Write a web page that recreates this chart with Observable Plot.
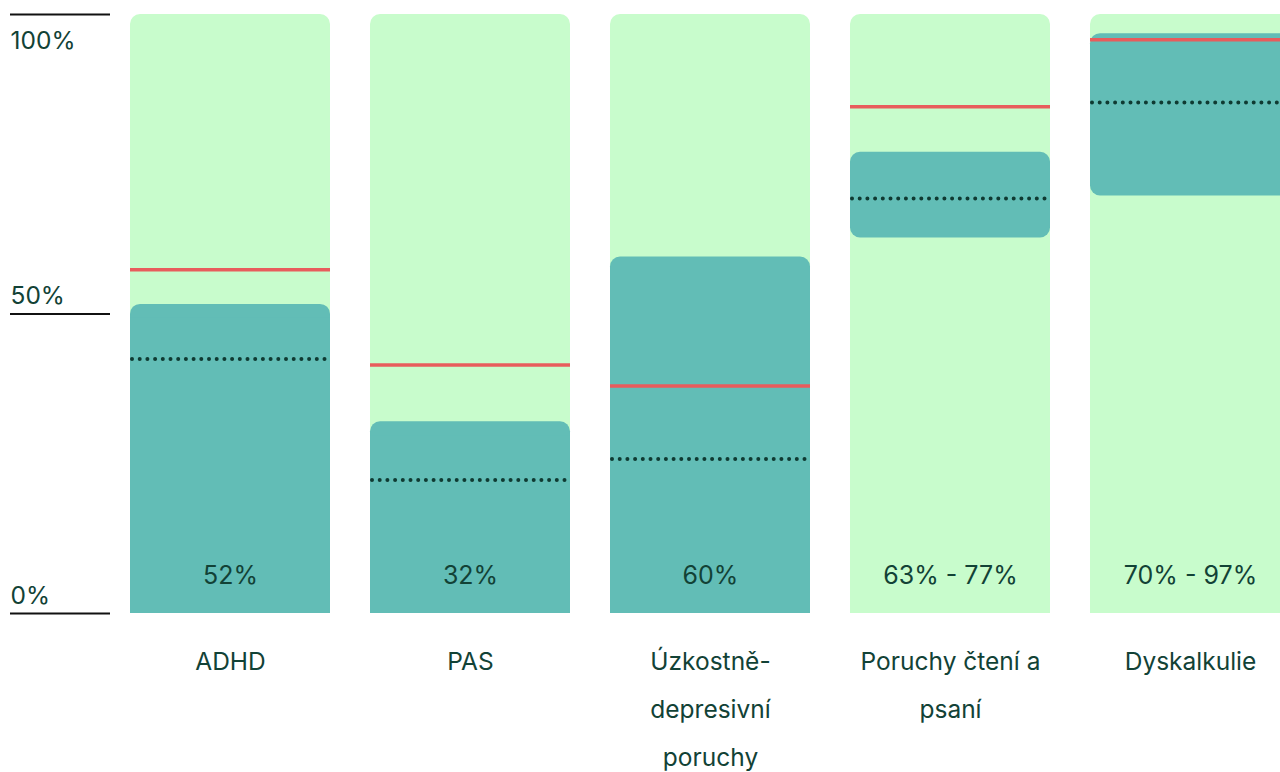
<!DOCTYPE html>
<html>
<head>
<meta charset="utf-8">
<script src="https://cdn.jsdelivr.net/npm/d3@7"></script>
<script src="https://cdn.jsdelivr.net/npm/@observablehq/plot@0.6"></script>
<style>
  html, body { margin: 0; padding: 0; background: #fff; }
  #chart { width: 1280px; height: 772px; overflow: hidden; }
</style>
</head>
<body>
<div id="chart"></div>
<script>
const categories = ["ADHD", "PAS", "Úzkostně-depresivní poruchy", "Poruchy čtení a psaní", "Dyskalkulie"];
const categoryLabels = ["ADHD", "PAS", "Úzkostně-\ndepresivní\nporuchy", "Poruchy čtení a\npsaní", "Dyskalkulie"];
const rangeLow = [0, 0, 0, 62.7, 69.7];
const rangeHigh = [51.6, 32, 59.5, 77, 96.8];
const dottedValues = [42.5, 22.3, 25.8, 69.3, 85.3];
const redValues = [57.4, 41.5, 38.0, 84.6, 95.8];
const valueLabels = ["52%", "32%", "60%", "63% - 77%", "70% - 97%"];
const yTicks = [0, 50, 100];
const yTickLabels = ["0%", "50%", "100%"];

const rows = categories.map((c, i) => ({
  cat: c, label: categoryLabels[i], lo: rangeLow[i], hi: rangeHigh[i],
  dot: dottedValues[i], red: redValues[i], text: valueLabels[i]
}));

const textColor = "#124236";
const font = "Inter, 'Noto Sans', sans-serif";

const chart = Plot.plot({
  width: 1280,
  height: 772,
  marginTop: 14,
  marginBottom: 159,
  marginLeft: 110,
  marginRight: 0,
  style: { fontFamily: font, color: textColor, background: "transparent" },
  x: { domain: categories, range: [110, 1310], paddingInner: 1/6, paddingOuter: 1/12, axis: null },
  y: { domain: [0, 100], axis: null },
  marks: [
    // background full bars
    Plot.barY(rows, { x: "cat", y1: 0, y2: 100, fill: "#c8fccc", rx: 10 }),
    Plot.barY(rows, { x: "cat", y1: 0, y2: 100, fill: "#c8fccc", insetTop: 20 }),
    // teal range bars
    Plot.barY(rows, { x: "cat", y1: "lo", y2: "hi", fill: "#62bdb6", rx: 10 }),
    Plot.barY(rows.filter(d => d.lo === 0), { x: "cat", y1: "lo", y2: "hi", fill: "#62bdb6", insetTop: 14 }),
    // red line
    Plot.tickY(rows, { x: "cat", y: "red", stroke: "#e85c5c", strokeWidth: 3.5 }),
    // dotted line
    Plot.tickY(rows, { x: "cat", y: "dot", insetLeft: 2, stroke: "#0f3a32", strokeWidth: 4, strokeDasharray: "0 7.7", strokeLinecap: "round" }),
    // value labels
    Plot.text(rows, { x: "cat", text: "text", frameAnchor: "bottom", lineAnchor: "bottom", dy: -30, fontSize: 25, fill: textColor }),
    // category labels
    Plot.text(rows, { x: "cat", text: "label", frameAnchor: "bottom", lineAnchor: "top", dy: 23, lineHeight: 1.95, fontSize: 24.5, fill: textColor }),
    // y axis tick rules
    Plot.axisY({ ticks: yTicks, tickSize: 100, tickFormat: () => "", stroke: "#111", strokeWidth: 2 }),
    // y tick labels
    Plot.text(yTicks.filter(v => v < 100), { y: d => d, text: d => yTickLabels[yTicks.indexOf(d)], frameAnchor: "left", dx: -100, textAnchor: "start", lineAnchor: "bottom", dy: -10, fontSize: 24.5, fill: textColor }),
    Plot.text(yTicks.filter(v => v === 100), { y: d => d, text: d => yTickLabels[yTicks.indexOf(d)], frameAnchor: "left", dx: -100, textAnchor: "start", lineAnchor: "top", dy: 17, fontSize: 24.5, fill: textColor })
  ]
});
document.getElementById("chart").appendChild(chart);
</script>
</body>
</html>
